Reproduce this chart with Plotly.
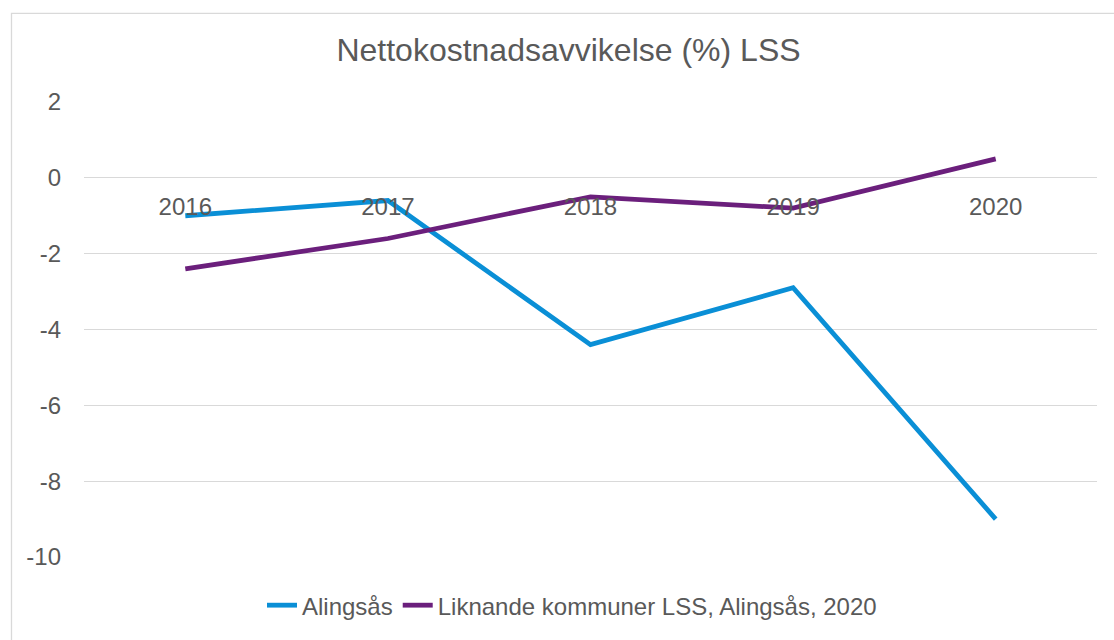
import plotly.graph_objects as go

years = ["2016", "2017", "2018", "2019", "2020"]
alingsas = [-1.0, -0.6, -4.4, -2.9, -9.0]
liknande = [-2.4, -1.6, -0.5, -0.8, 0.5]
y_ticks = [2, 0, -2, -4, -6, -8, -10]
y_tick_text = [str(v) for v in y_ticks]

W, H = 1114, 640
ml, mr, mt, mb = 84, 17, 102, 79
pw, ph = W - ml - mr, H - mt - mb

fig = go.Figure()
fig.add_trace(go.Scatter(x=years, y=alingsas, mode="lines", name="Alingsås",
                         line=dict(color="#0A8FD6", width=4.8)))
fig.add_trace(go.Scatter(x=years, y=liknande, mode="lines",
                         name="Liknande kommuner LSS, Alingsås, 2020",
                         line=dict(color="#6B1F7C", width=4.8)))

ymin, ymax = -10, 2
zero_pos = (0 - ymin) / (ymax - ymin)

fig.update_layout(
    width=W, height=H,
    margin=dict(l=ml, r=mr, t=mt, b=mb),
    paper_bgcolor="white", plot_bgcolor="white",
    font=dict(family="Liberation Sans, Arial, sans-serif", color="#595959", size=24),
    title=dict(text="Nettokostnadsavvikelse (%) LSS", x=568.5 / W, xanchor="center",
               xref="container", y=1 - 50 / H, yanchor="middle",
               font=dict(size=32, color="#595959")),
    xaxis=dict(type="category", range=[-0.5, 4.5], showgrid=False, showline=False,
               zeroline=False, ticks="", anchor="free", position=zero_pos,
               tickfont=dict(size=24, color="#595959"), ticklabelstandoff=12),
    yaxis=dict(range=[ymin, ymax], tickvals=y_ticks, ticktext=y_tick_text,
               showgrid=True, gridcolor="#D9D9D9",
               gridwidth=1.3, zeroline=False, showline=False, ticks="",
               tickfont=dict(size=24, color="#595959"), ticklabelstandoff=22),
    legend=dict(orientation="h", x=(572 - ml) / pw, xanchor="center",
                y=-(610 - mt - ph) / ph,
                yanchor="middle", font=dict(size=24, color="#595959"),
                tracegroupgap=0, bgcolor="rgba(0,0,0,0)"),
    showlegend=True,
    shapes=[dict(type="rect", xref="paper", yref="paper",
                 x0=(11.5 - ml) / pw, x1=(1140 - ml) / pw,
                 y0=-(700 - mt - ph) / ph, y1=1 + (mt - 12.5) / ph,
                 line=dict(color="#D9D9D9", width=1.3), layer="below")],
)

fig.write_html("out.html", config={"displayModeBar": False},
               post_script="document.body.style.margin='0';document.body.style.overflow='hidden';")
